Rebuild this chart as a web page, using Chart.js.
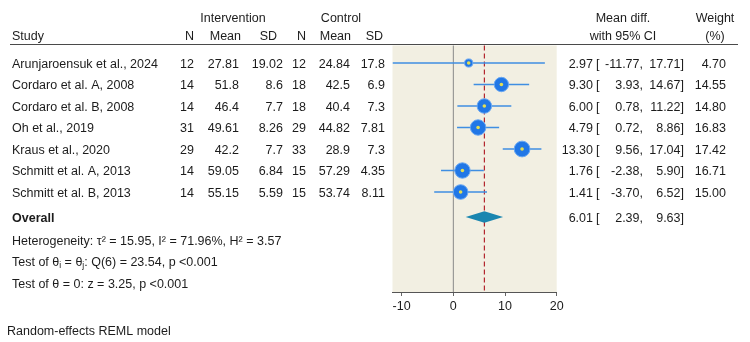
<!DOCTYPE html>
<html>
<head>
<meta charset="utf-8">
<script src="https://cdn.jsdelivr.net/npm/chart.js@4.4.1/dist/chart.umd.min.js"></script>
<style>
  html, body { margin: 0; padding: 0; background: #fff; }
  #wrap { width: 750px; height: 342px; }
</style>
</head>
<body>
<div id="wrap"><canvas id="forest" width="750" height="342"></canvas></div>
<script>
// Study data
const studies = [
  'Arunjaroensuk et al., 2024',
  'Cordaro et al. A, 2008',
  'Cordaro et al. B, 2008',
  'Oh et al., 2019',
  'Kraus et al., 2020',
  'Schmitt et al. A, 2013',
  'Schmitt et al. B, 2013'
];
const nInt = [12, 14, 14, 31, 29, 14, 14];
const meanInt = ['27.81', '51.8', '46.4', '49.61', '42.2', '59.05', '55.15'];
const sdInt = ['19.02', '8.6', '7.7', '8.26', '7.7', '6.84', '5.59'];
const nCtl = [12, 18, 18, 29, 33, 15, 15];
const meanCtl = ['24.84', '42.5', '40.4', '44.82', '28.9', '57.29', '53.74'];
const sdCtl = ['17.8', '6.9', '7.3', '7.81', '7.3', '4.35', '8.11'];
const meanDiff = [2.97, 9.30, 6.00, 4.79, 13.30, 1.76, 1.41];
const ciLow = [-11.77, 3.93, 0.78, 0.72, 9.56, -2.38, -3.70];
const ciHigh = [17.71, 14.67, 11.22, 8.86, 17.04, 5.90, 6.52];
const weights = [4.70, 14.55, 14.80, 16.83, 17.42, 16.71, 15.00];

// Overall (random-effects) estimate
const overallEst = 6.01;
const overallLow = 2.39;
const overallHigh = 9.63;

const xTicks = [-10, 0, 10, 20];

const FONT = '"Liberation Sans", Arial, sans-serif';
const TEXT = '#1c1c1c';

// row positions on the y scale (1 = first study)
const rows = studies.map((_, i) => i + 1);
const overallRow = 8.16;

// CI line datasets, one per study
const ciSets = studies.map((s, i) => ({
  type: 'line',
  data: [{ x: ciLow[i], y: rows[i] }, { x: ciHigh[i], y: rows[i] }],
  borderColor: '#3f8ee2',
  borderWidth: 1.3,
  pointRadius: 0,
  order: 3
}));

const markerSet = {
  data: meanDiff.map((v, i) => ({ x: v, y: rows[i] })),
  backgroundColor: '#2177e6',
  borderColor: '#6aa8f2',
  borderWidth: 1,
  pointRadius: weights.map(w => 7.2 * Math.sqrt(w / 14.55)),
  order: 2
};

const dotSet = {
  data: meanDiff.map((v, i) => ({ x: v, y: rows[i] })),
  backgroundColor: '#e4de52',
  borderWidth: 0,
  pointRadius: 1.8,
  order: 1
};

// small shift so the glyphs sit visually centred on each row
const TY = 1.5;

function txt(ctx, s, x, y, align, bold) {
  ctx.font = (bold ? 'bold ' : '') + '12.5px ' + FONT;
  ctx.textAlign = align || 'left';
  ctx.fillText(s, x, y + TY);
}

// draws a run of text pieces; pieces marked sub are smaller and lowered
function runs(ctx, parts, x, y) {
  ctx.textAlign = 'left';
  parts.forEach(p => {
    ctx.font = (p.sub ? '8.5px ' : '12.5px ') + FONT;
    ctx.fillText(p.t, x, y + TY + (p.sub ? 3 : 0));
    x += ctx.measureText(p.t).width;
  });
}

const forestPlugin = {
  id: 'forest',
  beforeDatasetsDraw(chart) {
    const { ctx, chartArea: a, scales: { x } } = chart;
    ctx.save();
    ctx.fillStyle = '#f2efe2';
    ctx.fillRect(a.left, a.top, a.right - a.left, a.bottom - a.top);
    // no-effect line
    ctx.strokeStyle = '#8a8a8a';
    ctx.lineWidth = 1;
    ctx.beginPath();
    ctx.moveTo(x.getPixelForValue(0), a.top);
    ctx.lineTo(x.getPixelForValue(0), a.bottom);
    ctx.stroke();
    // overall effect line
    ctx.strokeStyle = '#b3262e';
    ctx.lineWidth = 1.2;
    ctx.setLineDash([5, 3]);
    ctx.beginPath();
    ctx.moveTo(x.getPixelForValue(overallEst), a.top);
    ctx.lineTo(x.getPixelForValue(overallEst), a.bottom);
    ctx.stroke();
    ctx.restore();
  },
  afterDatasetsDraw(chart) {
    const { ctx, scales: { x, y } } = chart;
    const cy = y.getPixelForValue(overallRow);
    ctx.save();
    ctx.fillStyle = '#1a86b0';
    ctx.beginPath();
    ctx.moveTo(x.getPixelForValue(overallLow), cy);
    ctx.lineTo(x.getPixelForValue(overallEst), cy - 5.7);
    ctx.lineTo(x.getPixelForValue(overallHigh), cy);
    ctx.lineTo(x.getPixelForValue(overallEst), cy + 5.7);
    ctx.closePath();
    ctx.fill();
    ctx.restore();
  },
  afterDraw(chart) {
    const { ctx, scales: { y } } = chart;
    ctx.save();
    ctx.fillStyle = TEXT;
    ctx.textBaseline = 'middle';

    // headers
    txt(ctx, 'Intervention', 233, 17, 'center');
    txt(ctx, 'Control', 341, 17, 'center');
    txt(ctx, 'Mean diff.', 623, 17, 'center');
    txt(ctx, 'Weight', 715, 17, 'center');
    txt(ctx, 'Study', 12, 35);
    txt(ctx, 'N', 194, 35, 'right');
    txt(ctx, 'Mean', 241, 35, 'right');
    txt(ctx, 'SD', 277, 35, 'right');
    txt(ctx, 'N', 306, 35, 'right');
    txt(ctx, 'Mean', 351, 35, 'right');
    txt(ctx, 'SD', 383, 35, 'right');
    txt(ctx, 'with 95% CI', 623, 35, 'center');
    txt(ctx, '(%)', 715, 35, 'center');

    ctx.strokeStyle = '#4a4a4a';
    ctx.lineWidth = 1.2;
    ctx.beginPath();
    ctx.moveTo(10, 44.5);
    ctx.lineTo(738, 44.5);
    ctx.stroke();

    // study rows
    studies.forEach((s, i) => {
      const py = y.getPixelForValue(rows[i]);
      txt(ctx, s, 12, py);
      txt(ctx, String(nInt[i]), 194, py, 'right');
      txt(ctx, meanInt[i], 239, py, 'right');
      txt(ctx, sdInt[i], 283, py, 'right');
      txt(ctx, String(nCtl[i]), 306, py, 'right');
      txt(ctx, meanCtl[i], 350, py, 'right');
      txt(ctx, sdCtl[i], 385, py, 'right');
      txt(ctx, meanDiff[i].toFixed(2), 593, py, 'right');
      txt(ctx, '[', 596, py);
      txt(ctx, ciLow[i].toFixed(2) + ',', 643, py, 'right');
      txt(ctx, ciHigh[i].toFixed(2) + ']', 684, py, 'right');
      txt(ctx, weights[i].toFixed(2), 726, py, 'right');
    });

    // overall row
    const oy = y.getPixelForValue(overallRow);
    txt(ctx, 'Overall', 12, oy, 'left', true);
    txt(ctx, overallEst.toFixed(2), 593, oy, 'right');
    txt(ctx, '[', 596, oy);
    txt(ctx, overallLow.toFixed(2) + ',', 643, oy, 'right');
    txt(ctx, overallHigh.toFixed(2) + ']', 684, oy, 'right');

    // heterogeneity and tests
    txt(ctx, 'Heterogeneity: \u03c4\u00b2 = 15.95, I\u00b2 = 71.96%, H\u00b2 = 3.57', 12, y.getPixelForValue(9.22));
    runs(ctx, [
      { t: 'Test of \u03b8' }, { t: 'i', sub: true }, { t: ' = \u03b8' }, { t: 'j', sub: true },
      { t: ': Q(6) = 23.54, p <0.001' }
    ], 12, y.getPixelForValue(10.22));
    txt(ctx, 'Test of \u03b8 = 0: z = 3.25, p <0.001', 12, y.getPixelForValue(11.22));

    txt(ctx, 'Random-effects REML model', 7, 330);
    ctx.restore();
  }
};

new Chart(document.getElementById('forest'), {
  type: 'scatter',
  data: { datasets: [...ciSets, markerSet, dotSet] },
  options: {
    responsive: false,
    animation: false,
    events: [],
    layout: { padding: { left: 392.5, right: 193.3, top: 45.5, bottom: 0 } },
    plugins: { legend: { display: false }, tooltip: { enabled: false } },
    scales: {
      x: {
        type: 'linear',
        min: Math.min(...ciLow),
        max: xTicks[xTicks.length - 1],
        afterBuildTicks: s => { s.ticks = xTicks.map(v => ({ value: v })); },
        afterFit: s => { s.height = 50; },
        grid: { drawOnChartArea: false, drawTicks: true, tickLength: 4, color: '#666' },
        border: { color: '#555', width: 1 },
        ticks: { color: TEXT, font: { family: FONT, size: 12.5 }, padding: 3, autoSkip: false, maxRotation: 0 }
      },
      y: {
        type: 'linear',
        display: false,
        reverse: true,
        min: 0.186,
        max: 11.65
      }
    }
  },
  plugins: [forestPlugin]
});
</script>
</body>
</html>
